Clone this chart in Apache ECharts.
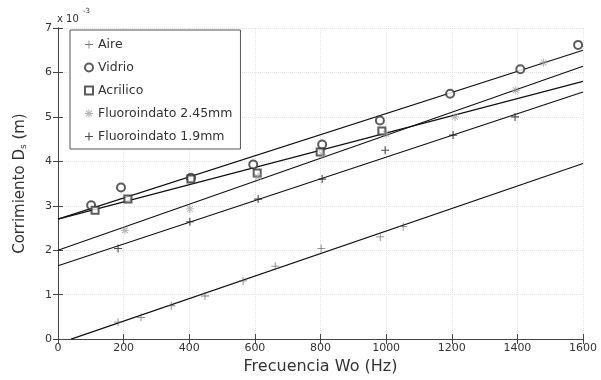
<!DOCTYPE html>
<html>
<head>
<meta charset="utf-8">
<script src="https://cdn.jsdelivr.net/npm/echarts@6/dist/echarts.min.js"></script>
<style>html,body{margin:0;padding:0;background:#fff}#c{width:601px;height:380px}</style>
</head>
<body>
<div id="c"></div>
<script>
// Values in units of 1e-3 m
const xTicks = [0, 200, 400, 600, 800, 1000, 1200, 1400, 1600];
const yTicks = [0, 1, 2, 3, 4, 5, 6, 7];

const aireX = [183, 253, 345, 448, 564, 662, 802, 982, 1052];
const aireY = [0.38, 0.49, 0.75, 0.97, 1.31, 1.64, 2.04, 2.30, 2.53];

const vidrioX = [101, 192, 405, 595, 805, 981, 1195, 1409, 1585];
const vidrioY = [3.01, 3.41, 3.63, 3.93, 4.38, 4.92, 5.52, 6.07, 6.62];

const acrilicoX = [113, 213, 405, 607, 799, 987];
const acrilicoY = [2.90, 3.15, 3.60, 3.74, 4.21, 4.68];

const fl245X = [204, 402, 610, 805, 1000, 1210, 1395, 1480];
const fl245Y = [2.45, 2.93, 3.65, 4.15, 4.62, 5.00, 5.60, 6.22];

const fl19X = [183, 402, 610, 805, 997, 1204, 1393];
const fl19Y = [2.04, 2.64, 3.15, 3.60, 4.25, 4.59, 5.00];

// Fitted lines (endpoints)
const fitX = [0, 1600];
const aireFitX = [40, 1600];
const aireFit = [0.00, 3.95];
const vidrioFit = [2.70, 6.50];
const acrilicoFit = [2.70, 5.80];
const fl245Fit = [2.00, 6.14];
const fl19Fit = [1.65, 5.56];

const names = ['Aire', 'Vidrio', 'Acrilico', 'Fluoroindato 2.45mm', 'Fluoroindato 1.9mm'];

const zip = (xs, ys) => xs.map((x, i) => [x, ys[i]]);
const FONT = 'DejaVu Sans';

const plusThin = 'path://M4.5,0H5.5V10H4.5ZM0,4.5H10V5.5H0Z';
const plusBold = 'path://M4.3,0H5.7V10H4.3ZM0,4.3H10V5.7H0Z';
const asterisk = 'path://M4.4,0H5.6V10H4.4ZM0,4.4H10V5.6H0ZM1,1.8L1.8,1L9,8.2L8.2,9ZM9,1.8L8.2,1L1,8.2L1.8,9Z';

function pts(name, xs, ys, symbol, size, style) {
  return { name, type: 'scatter', data: zip(xs, ys), symbol, symbolSize: size, itemStyle: style, z: 4 };
}
function fit(xs, ys) {
  return { type: 'line', data: zip(xs, ys), symbol: 'none', silent: true,
    lineStyle: { color: '#111', width: 1.2 }, z: 3, clip: true };
}

const axisCommon = {
  min: 0, axisLine: { show: true, lineStyle: { color: '#444', width: 1 } },
  axisTick: { inside: true, length: 5, lineStyle: { color: '#444' } },
};

const option = {
  animation: false,
  backgroundColor: '#fff',
  grid: { left: 58, right: 18, top: 28, bottom: 36 },
  legend: {
    data: names, orient: 'vertical', left: 70, top: 30,
    padding: [8, 8, 6, 14], itemGap: 10, itemWidth: 8, itemHeight: 8,
    itemTextGap: 13, borderColor: '#555', borderWidth: 1, borderRadius: 0,
    backgroundColor: '#fff',
    textStyle: { fontFamily: FONT, fontSize: 12.5, color: '#333' }
  },
  xAxis: [
    Object.assign({}, axisCommon, {
      type: 'value', max: 1600, interval: 200, position: 'bottom',
      name: 'Frecuencia Wo (Hz)', nameLocation: 'middle', nameGap: 16,
      nameTextStyle: { fontFamily: FONT, fontSize: 16, color: '#333' },
      axisLabel: { fontFamily: FONT, fontSize: 11, color: '#333', margin: 4,
        formatter: v => xTicks.includes(v) ? String(v) : '' },
      splitLine: { show: true, lineStyle: { color: '#e2e2e2', type: 'dotted' } }
    }),
    Object.assign({}, axisCommon, {
      type: 'value', max: 1600, interval: 200, position: 'top',
      axisLabel: { show: false }, splitLine: { show: false }
    })
  ],
  yAxis: [
    Object.assign({}, axisCommon, {
      type: 'value', max: 7, interval: 1, position: 'left',
      name: '{a|Corrimiento D}{s|s}{a| (m)}', nameLocation: 'middle', nameGap: 30,
      nameTextStyle: { fontFamily: FONT, fontSize: 15, color: '#333',
        rich: { a: { fontFamily: FONT, fontSize: 15, color: '#333' },
                s: { fontFamily: FONT, fontSize: 9, color: '#333', verticalAlign: 'bottom', padding: [6, 0, 0, 0] } } },
      axisLabel: { fontFamily: FONT, fontSize: 11, color: '#333', margin: 6,
        formatter: v => yTicks.includes(v) ? String(v) : '' },
      splitLine: { show: true, lineStyle: { color: '#e2e2e2', type: 'dotted' } }
    }),
    Object.assign({}, axisCommon, {
      type: 'value', max: 7, interval: 1, position: 'right',
      axisLabel: { show: false }, splitLine: { show: false }
    })
  ],
  graphic: [
    { type: 'text', left: 57, top: 14, style: { text: 'x 10', font: '10px "DejaVu Sans"', fill: '#333' } },
    { type: 'text', left: 83, top: 8, style: { text: '-3', font: '7px "DejaVu Sans"', fill: '#333' } }
  ],
  series: [
    pts(names[0], aireX, aireY, plusThin, 8, { color: '#555' }),
    pts(names[1], vidrioX, vidrioY, 'emptyCircle', 8, { color: '#333', borderWidth: 1 }),
    pts(names[2], acrilicoX, acrilicoY, 'emptyRect', 7, { color: '#333', borderWidth: 1 }),
    pts(names[3], fl245X, fl245Y, asterisk, 8, { color: '#999' }),
    pts(names[4], fl19X, fl19Y, plusBold, 8, { color: '#222' }),
    fit(aireFitX, aireFit), fit(fitX, vidrioFit), fit(fitX, acrilicoFit), fit(fitX, fl245Fit), fit(fitX, fl19Fit)
  ]
};

const chart = echarts.init(document.getElementById('c'), null, { renderer: 'canvas' });
chart.setOption(option);
</script>
</body>
</html>
